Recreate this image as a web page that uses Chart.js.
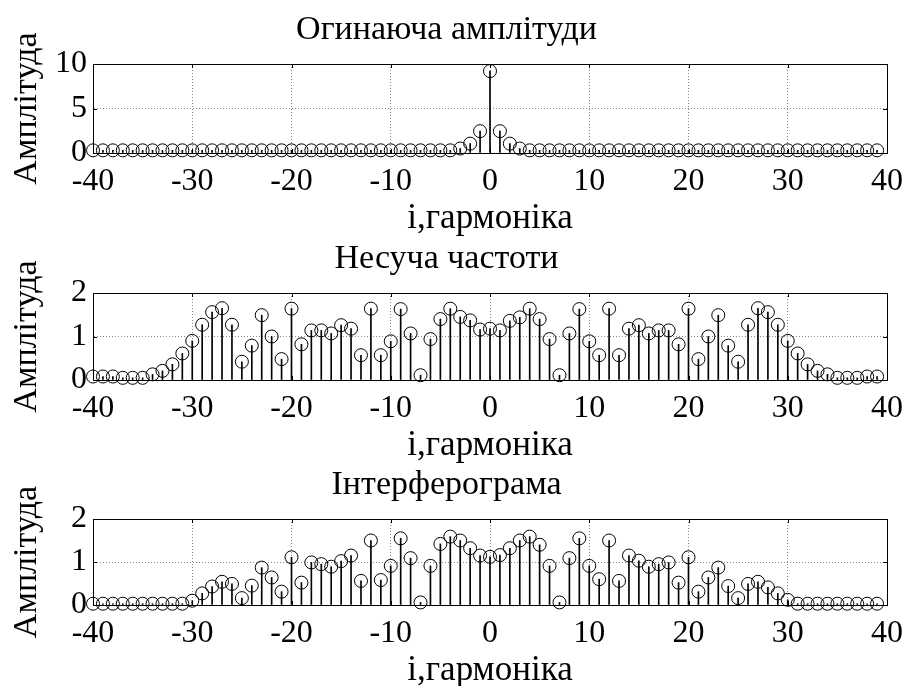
<!DOCTYPE html>
<html>
<head>
<meta charset="utf-8">
<script src="https://cdn.jsdelivr.net/npm/chart.js@4.4.0/dist/chart.umd.min.js"></script>
<style>
  body { margin: 0; background: #fff; width: 912px; height: 686px; position: relative; overflow: hidden; }
  canvas { position: absolute; left: 0; }
</style>
</head>
<body>
<canvas id="plot1" width="912" height="241" style="top:0px"></canvas>
<canvas id="plot2" width="912" height="239" style="top:229px"></canvas>
<canvas id="plot3" width="912" height="238" style="top:455px"></canvas>
<script>
const harmonics = [
  -40, -39, -38, -37, -36, -35, -34, -33, -32, -31,
  -30, -29, -28, -27, -26, -25, -24, -23, -22, -21,
  -20, -19, -18, -17, -16, -15, -14, -13, -12, -11,
  -10, -9, -8, -7, -6, -5, -4, -3, -2, -1,
  0, 1, 2, 3, 4, 5, 6, 7, 8, 9,
  10, 11, 12, 13, 14, 15, 16, 17, 18, 19,
  20, 21, 22, 23, 24, 25, 26, 27, 28, 29,
  30, 31, 32, 33, 34, 35, 36, 37, 38, 39
];

// Огинаюча амплітуди
const envelope = [
  0.3, 0.3, 0.3, 0.3, 0.3, 0.3, 0.3, 0.3, 0.3, 0.3,
  0.3, 0.3, 0.3, 0.3, 0.3, 0.3, 0.3, 0.3, 0.3, 0.3,
  0.3, 0.3, 0.3, 0.3, 0.3, 0.3, 0.3, 0.3, 0.3, 0.3,
  0.3, 0.3, 0.3, 0.3, 0.3, 0.3, 0.3, 0.5, 1.05, 2.45,
  9.2, 2.45, 1.05, 0.5, 0.3, 0.3, 0.3, 0.3, 0.3, 0.3,
  0.3, 0.3, 0.3, 0.3, 0.3, 0.3, 0.3, 0.3, 0.3, 0.3,
  0.3, 0.3, 0.3, 0.3, 0.3, 0.3, 0.3, 0.3, 0.3, 0.3,
  0.3, 0.3, 0.3, 0.3, 0.3, 0.3, 0.3, 0.3, 0.3, 0.3
];

// Несуча частоти
const carrier = [
  0.08, 0.08, 0.08, 0.05, 0.05, 0.05, 0.13, 0.21, 0.36, 0.61,
  0.9, 1.27, 1.56, 1.65, 1.27, 0.42, 0.79, 1.49, 1.0, 0.48,
  1.64, 0.82, 1.14, 1.14, 1.07, 1.26, 1.18, 0.57, 1.64, 0.57,
  0.89, 1.63, 1.07, 0.11, 0.94, 1.4, 1.64, 1.45, 1.37, 1.16,
  1.18, 1.14, 1.36, 1.44, 1.64, 1.4, 0.94, 0.11, 1.07, 1.63,
  0.89, 0.57, 1.64, 0.57, 1.18, 1.26, 1.07, 1.14, 1.14, 0.82,
  1.64, 0.48, 1.0, 1.49, 0.79, 0.42, 1.27, 1.65, 1.56, 1.27,
  0.9, 0.61, 0.36, 0.21, 0.13, 0.05, 0.05, 0.05, 0.08, 0.08
];

// Інтерферограма
const interferogram = [
  0.03, 0.03, 0.03, 0.03, 0.03, 0.03, 0.03, 0.03, 0.03, 0.03,
  0.1, 0.27, 0.43, 0.54, 0.49, 0.16, 0.45, 0.87, 0.64, 0.31,
  1.11, 0.52, 0.99, 0.95, 0.89, 1.02, 1.15, 0.56, 1.5, 0.58,
  0.91, 1.55, 1.09, 0.06, 0.91, 1.42, 1.59, 1.5, 1.32, 1.15,
  1.12, 1.16, 1.32, 1.5, 1.59, 1.4, 0.91, 0.06, 1.09, 1.55,
  0.91, 0.6, 1.5, 0.56, 1.15, 1.03, 0.89, 0.95, 0.99, 0.52,
  1.11, 0.31, 0.64, 0.87, 0.44, 0.16, 0.49, 0.54, 0.41, 0.27,
  0.12, 0.03, 0.03, 0.03, 0.03, 0.03, 0.03, 0.03, 0.03, 0.03
];

const xTitle = 'i,гармоніка';
const yTitle = 'Амплітуда';

Chart.defaults.font.family = "'Liberation Serif', 'Times New Roman', serif";
Chart.defaults.color = '#000';

// matlab-like box with inward ticks
const boxPlugin = {
  id: 'box',
  afterDraw(chart) {
    const { ctx, chartArea: a, scales } = chart;
    ctx.save();
    ctx.strokeStyle = '#000';
    ctx.lineWidth = 1;
    ctx.strokeRect(a.left + 0.5, a.top + 0.5, a.right - a.left, a.bottom - a.top);
    ctx.beginPath();
    scales.x.ticks.forEach(t => {
      const px = Math.round(scales.x.getPixelForValue(t.value)) + 0.5;
      ctx.moveTo(px, a.top); ctx.lineTo(px, a.top + 4);
      ctx.moveTo(px, a.bottom); ctx.lineTo(px, a.bottom - 4);
    });
    scales.y.ticks.forEach(t => {
      const py = Math.round(scales.y.getPixelForValue(t.value)) + 0.5;
      ctx.moveTo(a.left, py); ctx.lineTo(a.left + 4, py);
      ctx.moveTo(a.right, py); ctx.lineTo(a.right - 4, py);
    });
    ctx.stroke();
    ctx.restore();
  }
};

function stemPlot(id, title, values, yMax, yStep) {
  const pts = harmonics.map((h, i) => ({ x: h, y: values[i] }));
  return new Chart(document.getElementById(id), {
    type: 'scatter',
    data: {
      datasets: [
        {
          data: pts,
          showLine: false,
          pointRadius: 6.5,
          pointBorderWidth: 1,
          borderColor: '#000',
          backgroundColor: 'rgba(0,0,0,0)',
          clip: false
        },
        {
          type: 'bar',
          data: pts,
          barThickness: 1,
          backgroundColor: '#000',
          borderWidth: 0
        }
      ]
    },
    options: {
      responsive: false,
      animation: false,
      layout: { padding: { top: 0, left: 0, right: 19, bottom: 0 } },
      plugins: {
        legend: { display: false },
        tooltip: { enabled: false },
        title: {
          display: true,
          text: title,
          color: '#000',
          font: { size: 34, weight: 'normal', lineHeight: 1 },
          padding: { top: 13, bottom: 17 }
        }
      },
      scales: {
        x: {
          type: 'linear',
          min: -40,
          max: 40,
          offset: false,
          afterFit: s => { s.height = 88; },
          ticks: { stepSize: 10, padding: 9, maxRotation: 0, font: { size: 32 } },
          grid: { color: '#888', drawTicks: false, offset: false },
          border: { display: true, color: '#000', dash: [1, 2] },
          title: { display: true, text: xTitle, font: { size: 35, lineHeight: 1 }, padding: { top: 0, bottom: 5 } }
        },
        y: {
          min: 0,
          max: yMax,
          afterFit: s => { s.width = 93; },
          ticks: { stepSize: yStep, padding: 6, font: { size: 32 } },
          grid: { color: '#888', drawTicks: false },
          border: { display: true, color: '#000', dash: [1, 2] },
          title: { display: true, text: yTitle, font: { size: 34, lineHeight: 1 }, padding: { top: 10, bottom: 0 } }
        }
      }
    },
    plugins: [boxPlugin]
  });
}

stemPlot('plot1', 'Огинаюча амплітуди', envelope, 10, 5);
stemPlot('plot2', 'Несуча частоти', carrier, 2, 1);
stemPlot('plot3', 'Інтерферограма', interferogram, 2, 1);
</script>
</body>
</html>
